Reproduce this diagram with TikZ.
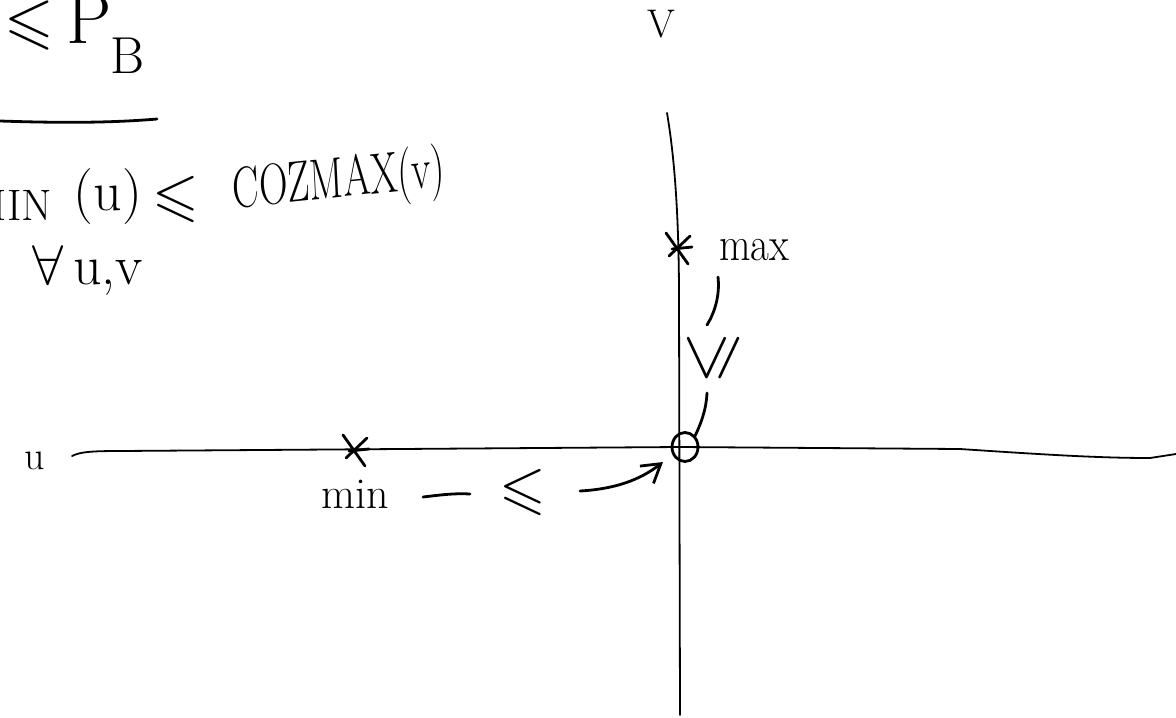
\RequirePackage{fix-cm}
\documentclass[tikz,border=0pt]{standalone}
\usepackage{amssymb}
\usetikzlibrary{arrows.meta,shapes.geometric}
\begin{document}
\begin{tikzpicture}[x=0.5pt,y=-0.5pt,
  pen/.style={line width=1.4pt, line cap=round, line join=round},
  axisline/.style={line width=0.9pt, line cap=round},
  hand/.style={inner sep=0pt, outer sep=0pt},
  xstar/.pic={
    \draw[pen] (-12,-15) -- (10,16);
    \draw[pen] (12,-12) -- (-9,8);
    \draw[pen] (-6,1) -- (14,-1);
  }]
\useasboundingbox (0,0) rectangle (1176,717);
\begin{scope}
\clip (0,0) rectangle (1176,717);
% top-left heading
\node[hand, font=\fontsize{32}{34}\selectfont] (le1) at (29,26) {$\leqslant$};
\node[hand, anchor=base west, font=\fontsize{36}{40}\selectfont] (pp) at (66,44) {P};
\node[hand, font=\fontsize{26}{28}\selectfont] (bb) at (128,56) {B};
\coordinate (rulel) at (0,121);
\coordinate (ruler) at (157,119);
\draw[pen] (rulel) .. controls (60,123) and (110,123) .. (ruler);
% formula
\node[hand, anchor=base east, font=\fontsize{22}{24}\selectfont] (minf) at (52,220) {MIN};
\node[hand, font=\fontsize{28}{30}\selectfont] (uarg) at (108,197) {(u)};
\node[hand, font=\fontsize{30}{32}\selectfont] (le2) at (176,199) {$\leqslant$};
\node[hand, font=\fontsize{29}{31}\selectfont, xscale=0.68, rotate=4] (coz) at (339,183) {COZMAX(v)};
\node[hand, font=\fontsize{28}{30}\selectfont] (forall) at (88,270) {$\forall$\,u,v};
% axes
\node[hand, font=\fontsize{20}{22}\selectfont] (vlab) at (661,24) {V};
\node[hand, font=\fontsize{20}{22}\selectfont] (ulab) at (35,461) {u};
\coordinate (vtop) at (667,113);
\coordinate (vmid) at (679,300);
\coordinate (vbot) at (680,715);
\draw[axisline] (vtop) .. controls (675,160) and (679,220) .. (vmid) -- (vbot);
\coordinate (hleft) at (72,456);
\coordinate (hmid) at (680,447);
\coordinate (hright) at (1176,454);
\draw[axisline] (hleft) .. controls (80,452) and (90,451) .. (120,451) -- (hmid)
  -- (960,449) .. controls (1050,455) and (1100,458) .. (1150,458) -- (hright);
% origin
\node[draw, ellipse, pen, minimum width=13pt, minimum height=14.5pt, inner sep=0pt] (orig) at (685,447) {};
% min side
\pic at (355,450) {xstar};
\node[hand, font=\fontsize{22}{24}\selectfont] (minl) at (355,494) {min};
\coordinate (dasha) at (423,497);
\coordinate (dashb) at (470,494);
\draw[pen] (dasha) .. controls (440,495) and (455,493) .. (dashb);
\node[hand, font=\fontsize{30}{32}\selectfont] (le3) at (523,492) {$\leqslant$};
\coordinate (arra) at (580,491);
\coordinate (arrb) at (663,462);
\draw[pen, -{Straight Barb[length=9pt,width=11pt]}] (arra) .. controls (615,489) and (640,480) .. (arrb);
% max side
\begin{scope}[scale=0.6]
\pic at ({678/0.6},{248/0.6}) {xstar};
\end{scope}
\node[hand, font=\fontsize{24}{26}\selectfont, xscale=0.85] (maxl) at (754,250) {max};
\node[hand, font=\fontsize{34}{36}\selectfont, rotate=90] (le4) at (713,358) {$\leqslant$};
\coordinate (c1a) at (718,277);
\coordinate (c1b) at (707,325);
\draw[pen] (c1a) .. controls (720,295) and (715,312) .. (c1b);
\coordinate (c2a) at (707,393);
\draw[pen] (c2a) .. controls (706,412) and (700,425) .. (orig.north east);
\end{scope}
\end{tikzpicture}
\end{document}
